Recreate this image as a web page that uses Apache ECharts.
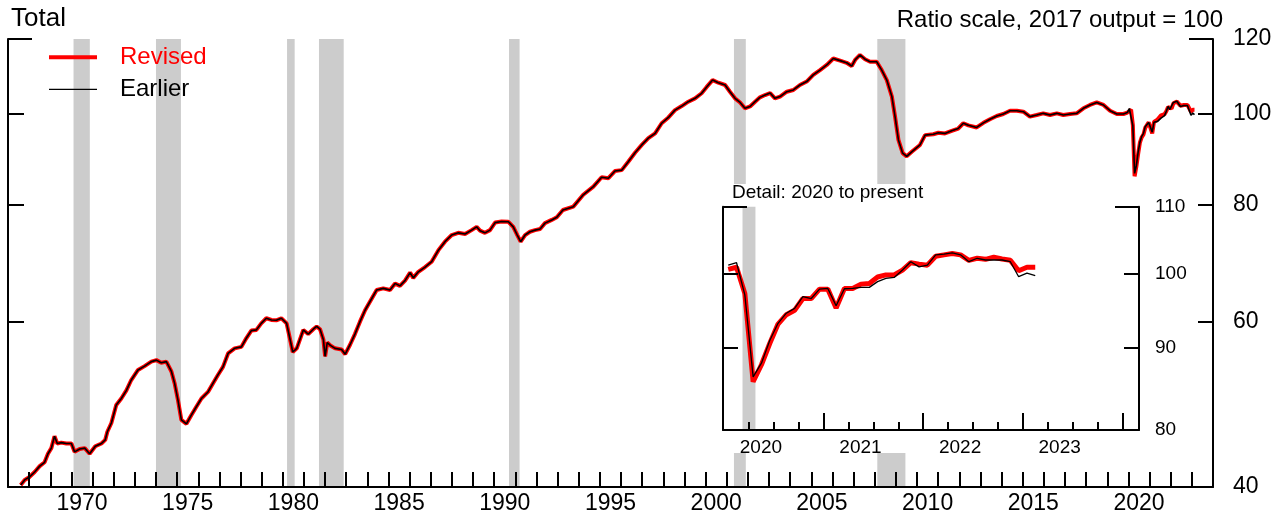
<!DOCTYPE html>
<html><head><meta charset="utf-8">
<script src="https://cdn.jsdelivr.net/npm/echarts@6/dist/echarts.min.js"></script>
<style>html,body{margin:0;padding:0;background:#fff}#c{width:1285px;height:521px}</style>
</head><body><div id="c"></div>
<script>
// ---- data (index, 2017 output = 100) ----
const histDates = [1967.6,1967.79,1968.02,1968.26,1968.5,1968.73,1968.89,1969.05,1969.2,1969.33,1969.52,1969.76,1970.0,1970.15,1970.39,1970.63,1970.86,1971.13,1971.42,1971.6,1971.7,1971.89,1972.12,1972.36,1972.6,1972.83,1973.15,1973.46,1973.78,1974.02,1974.25,1974.49,1974.73,1974.88,1975.04,1975.2,1975.44,1975.67,1975.91,1976.15,1976.46,1976.7,1976.93,1977.17,1977.41,1977.72,1978.04,1978.27,1978.51,1978.75,1978.98,1979.22,1979.46,1979.69,1979.93,1980.18,1980.47,1980.66,1980.97,1981.2,1981.44,1981.6,1981.76,1981.92,1982.0,1982.1,1982.25,1982.47,1982.78,1982.95,1983.18,1983.41,1983.65,1983.89,1984.12,1984.44,1984.75,1985.07,1985.31,1985.54,1985.78,1986.02,1986.17,1986.41,1986.73,1987.04,1987.36,1987.67,1987.99,1988.3,1988.62,1988.93,1989.17,1989.33,1989.56,1989.8,1990.04,1990.35,1990.67,1990.9,1991.09,1991.25,1991.46,1991.69,1991.93,1992.17,1992.4,1992.72,1992.96,1993.25,1993.74,1994.21,1994.69,1995.08,1995.4,1995.71,1996.03,1996.34,1996.66,1996.98,1997.29,1997.61,1997.92,1998.24,1998.55,1998.87,1999.18,1999.5,1999.81,2000.05,2000.33,2000.6,2000.92,2001.15,2001.39,2001.63,2001.86,2002.1,2002.34,2002.57,2002.81,2003.05,2003.28,2003.52,2003.84,2004.15,2004.46,2004.78,2005.09,2005.41,2005.73,2006.04,2006.36,2006.67,2006.91,2007.07,2007.3,2007.54,2007.78,2008.09,2008.33,2008.57,2008.81,2008.96,2009.12,2009.32,2009.51,2009.75,2010.14,2010.38,2010.77,2011.01,2011.32,2011.64,2011.95,2012.19,2012.43,2012.82,2013.14,2013.45,2013.77,2014.08,2014.4,2014.72,2015.03,2015.34,2015.66,2015.97,2016.29,2016.61,2016.92,2017.24,2017.55,2017.87,2018.18,2018.5,2018.82,2019.13,2019.45,2019.76,2019.95];
const histValues = [40.2,40.7,41.0,41.5,42.1,42.5,43.4,44.0,45.3,44.5,44.6,44.5,44.5,43.6,43.9,44.0,43.4,44.2,44.5,44.9,45.8,46.8,48.9,49.7,50.7,52.0,53.3,53.8,54.4,54.6,54.25,54.4,53.1,51.6,49.5,47.15,46.7,47.7,48.7,49.7,50.5,51.6,52.65,53.7,55.5,56.2,56.4,57.6,58.7,58.8,59.75,60.5,60.25,60.2,60.5,59.75,55.7,56.2,58.8,58.2,58.9,59.3,58.9,57.4,55.1,57.0,56.6,56.2,56.05,55.4,56.7,58.2,60.0,61.7,63.0,64.85,65.1,64.85,65.9,65.5,66.35,67.66,66.8,67.8,68.6,69.5,71.5,73.0,74.2,74.6,74.4,75.1,75.7,75.0,74.6,75.1,76.5,76.7,76.65,75.7,74.2,73.0,74.2,74.8,75.1,75.3,76.4,77.0,77.5,78.9,79.55,81.9,83.55,85.5,85.3,86.8,87.0,88.8,90.8,92.55,94.1,95.2,97.6,99.0,100.8,101.8,102.9,103.75,105.05,106.7,108.5,107.8,107.2,105.45,103.75,102.7,101.25,101.7,102.9,104.0,104.6,105.1,103.75,104.2,105.45,105.9,107.2,108.1,109.9,111.2,112.6,114.4,113.8,113.2,112.3,114.0,115.4,114.2,113.5,113.5,111.2,108.5,104.2,99.2,93.7,90.7,90.0,91.0,92.55,94.8,95.0,95.35,95.2,95.8,96.35,97.6,97.1,96.6,97.7,98.56,99.36,99.84,100.65,100.65,100.4,99.2,99.6,100.0,99.6,100.0,99.6,99.84,100.0,101.25,102.07,102.7,102.07,100.65,99.84,99.84,100.2];

const detailMonths = ['2020-01','2020-02','2020-03','2020-04','2020-05','2020-06','2020-07','2020-08','2020-09','2020-10','2020-11','2020-12',
  '2021-01','2021-02','2021-03','2021-04','2021-05','2021-06','2021-07','2021-08','2021-09','2021-10','2021-11','2021-12',
  '2022-01','2022-02','2022-03','2022-04','2022-05','2022-06','2022-07','2022-08','2022-09','2022-10','2022-11','2022-12',
  '2023-01','2023-02'];
const detailRevised = [100.6,100.9,97.2,85.7,87.8,90.5,93.05,94.3,94.9,96.5,96.5,97.8,97.8,95.2,97.9,97.9,98.5,98.6,99.5,99.8,99.8,100.5,101.55,101.35,101.2,102.5,102.7,102.9,102.7,101.9,102.2,102.05,102.35,102.1,101.9,100.4,100.9,100.9];
const detailEarlier = [101.2,101.55,97.0,86.3,88.0,90.9,93.15,94.5,95.15,96.75,96.5,97.8,97.9,95.5,97.85,97.9,98.05,98.05,98.85,99.3,99.45,100.5,101.7,100.95,101.2,102.7,102.8,103.0,102.7,101.7,102.2,101.95,101.95,101.95,101.7,99.55,100.05,99.7];

const mainRecessions = [[1970.1,1970.87],[1974.0,1975.18],[1980.2,1980.56],[1981.71,1982.88],[1990.7,1991.2],[2001.34,2001.9],[2008.12,2009.45]];
const detailRecessions = [[2020.185,2020.315]];

const mainYTicks = [40,60,80,100,120];
const detailYTicks = [80,90,100,110];
const mainXLabels = [1970,1975,1980,1985,1990,1995,2000,2005,2010,2015,2020];
const detailXLabels = [2020,2021,2022,2023];

// ---- build ----
const L = Math.log10;
const FONT = '"Liberation Sans", Arial, Helvetica, sans-serif';
const monthToYear = s => { const p = s.split('-'); return +p[0] + (+p[1] - 0.5) / 12; };
const detailDates = detailMonths.map(monthToYear);
const pairs = (d, v) => d.map((x, i) => [x, L(v[i])]);

const mainRev = pairs(histDates.concat(detailDates), histValues.concat(detailRevised));
const mainEar = pairs(histDates.concat(detailDates), histValues.concat(detailEarlier));
const detRev = pairs(detailDates, detailRevised);
const detEar = pairs(detailDates, detailEarlier);

const yearTicks = []; for (let y = 1968; y <= 2023; y++) yearTicks.push(y);
const quarterTicks = []; for (let y = 2020; y <= 2023; y++) [0.25, 0.5, 0.75].forEach(q => quarterTicks.push(y + q));
const detailYearTicks = [2021, 2022, 2023, 2024];

const BLACK = '#000';
const line2 = { color: BLACK, width: 2 };
const noSplit = { show: false };
const fmtY = v => String(Math.round(Math.pow(10, v)));

function yAx(grid, pos, min, max, opt) {
  return Object.assign({
    type: 'value', gridIndex: grid, position: pos, min: min, max: max,
    axisLine: { show: true, onZero: false, lineStyle: line2 },
    axisTick: { show: false }, axisLabel: { show: false }, splitLine: noSplit, z: grid ? 10 : 4
  }, opt);
}

const option = {
  animation: false,
  textStyle: { fontFamily: FONT },
  title: [
    { text: 'Total', left: 11, top: 6, padding: 0, z: 20, textStyle: { fontSize: 26, fontWeight: 'normal', color: BLACK, fontFamily: FONT } },
    { text: 'Ratio scale, 2017 output = 100', right: 62, top: 8.5, padding: 0, z: 20, textStyle: { fontSize: 24, fontWeight: 'normal', color: BLACK, fontFamily: FONT } },
    { text: 'Detail: 2020 to present', left: 732, top: 183.5, padding: 0, z: 20, textStyle: { fontSize: 19, fontWeight: 'normal', color: BLACK, fontFamily: FONT } }
  ],
  legend: [
    { data: ['Revised'], orient: 'vertical', left: 49, top: 45.3, padding: 0, icon: 'rect', itemWidth: 48, itemHeight: 4, selectedMode: false, z: 20,
      textStyle: { fontSize: 24, lineHeight: 24, color: '#ff0000', fontFamily: FONT, padding: [0, 0, 0, 18] } },
    { data: ['Earlier'], orient: 'vertical', left: 49, top: 77.3, padding: 0, icon: 'rect', itemWidth: 48, itemHeight: 1.3, selectedMode: false, z: 20,
      textStyle: { fontSize: 24, lineHeight: 24, color: BLACK, fontFamily: FONT, padding: [0, 0, 0, 18] } }
  ],
  graphic: [
    { type: 'rect', shape: { x: 715, y: 184, width: 475, height: 269 }, style: { fill: '#ffffff' }, z: 6, silent: true }
  ],
  grid: [
    { left: 8, right: 72, top: 39, bottom: 34, outerBoundsMode: 'none', containLabel: false },
    { left: 723, right: 146, top: 206.7, bottom: 91, outerBoundsMode: 'none', containLabel: false }
  ],
  xAxis: [
    { type: 'value', gridIndex: 0, position: 'bottom', min: 1967, max: 2024,
      axisLine: { show: true, onZero: false, lineStyle: line2 },
      axisTick: { show: true, inside: true, length: 15, lineStyle: line2, customValues: yearTicks },
      axisLabel: { show: true, customValues: mainXLabels.map(y => y + 0.5), formatter: v => String(Math.floor(v)), fontSize: 23, color: BLACK, fontFamily: FONT, margin: 5 },
      splitLine: noSplit, z: 4 },
    { type: 'value', gridIndex: 1, position: 'bottom', min: 2019.989, max: 2024.167,
      axisLine: { show: true, onZero: false, lineStyle: line2 },
      axisTick: { show: true, inside: true, length: 8, lineStyle: line2, customValues: quarterTicks },
      axisLabel: { show: true, customValues: detailXLabels.map(y => y + 0.37), formatter: v => String(Math.floor(v)), fontSize: 19, color: BLACK, fontFamily: FONT, margin: 8 },
      splitLine: noSplit, z: 10 },
    { type: 'value', gridIndex: 1, position: 'bottom', offset: 0, min: 2019.989, max: 2024.167,
      axisLine: { show: false, onZero: false },
      axisTick: { show: true, inside: true, length: 17, lineStyle: line2, customValues: detailYearTicks },
      axisLabel: { show: false }, splitLine: noSplit, z: 10 }
  ],
  yAxis: [
    yAx(0, 'left', L(40), L(120), { axisTick: { show: true, inside: true, length: 16, lineStyle: line2, customValues: [60, 80, 100].map(L) } }),
    yAx(0, 'right', L(40), L(120), {
      axisTick: { show: true, inside: true, length: 15, lineStyle: line2, customValues: [60, 80, 100].map(L) },
      axisLabel: { show: true, customValues: mainYTicks.map(L), formatter: fmtY, fontSize: 23, color: BLACK, fontFamily: FONT, margin: 20 } }),
    yAx(0, 'left', L(40), L(120), { axisLine: { show: false, onZero: false }, axisTick: { show: true, inside: true, length: 24, lineStyle: line2, customValues: [L(120)] } }),
    yAx(0, 'right', L(40), L(120), { axisLine: { show: false, onZero: false }, axisTick: { show: true, inside: true, length: 24, lineStyle: line2, customValues: [L(120)] } }),
    yAx(1, 'left', L(80), L(110), { axisTick: { show: true, inside: true, length: 15, lineStyle: line2, customValues: [90, 100].map(L) } }),
    yAx(1, 'right', L(80), L(110), {
      axisTick: { show: true, inside: true, length: 15, lineStyle: line2, customValues: [90, 100].map(L) },
      axisLabel: { show: true, customValues: detailYTicks.map(L), formatter: fmtY, fontSize: 19, color: BLACK, fontFamily: FONT, margin: 16 } }),
    yAx(1, 'left', L(80), L(110), { axisLine: { show: false, onZero: false }, axisTick: { show: true, inside: true, length: 24, lineStyle: line2, customValues: [L(110)] } }),
    yAx(1, 'right', L(80), L(110), { axisLine: { show: false, onZero: false }, axisTick: { show: true, inside: true, length: 24, lineStyle: line2, customValues: [L(110)] } })
  ],
  series: [
    { name: 'Revised', type: 'line', xAxisIndex: 0, yAxisIndex: 0, data: mainRev, symbol: 'none', showSymbol: false,
      lineStyle: { color: '#ff0000', width: 4 }, itemStyle: { color: '#ff0000' }, z: 2, silent: true,
      markArea: { silent: true, z: 1, itemStyle: { color: '#cccccc', opacity: 1 }, label: { show: false },
        data: mainRecessions.map(r => [{ xAxis: r[0] }, { xAxis: r[1] }]) } },
    { name: 'Earlier', type: 'line', xAxisIndex: 0, yAxisIndex: 0, data: mainEar, symbol: 'none', showSymbol: false,
      lineStyle: { color: BLACK, width: 1.6 }, itemStyle: { color: BLACK }, z: 3, silent: true },
    { name: 'Revised', type: 'line', xAxisIndex: 1, yAxisIndex: 4, data: detRev, symbol: 'none', showSymbol: false,
      lineStyle: { color: '#ff0000', width: 5 }, itemStyle: { color: '#ff0000' }, z: 8, silent: true,
      markArea: { silent: true, z: 7, itemStyle: { color: '#cccccc', opacity: 1 }, label: { show: false },
        data: detailRecessions.map(r => [{ xAxis: r[0] }, { xAxis: r[1] }]) } },
    { name: 'Earlier', type: 'line', xAxisIndex: 1, yAxisIndex: 4, data: detEar, symbol: 'none', showSymbol: false,
      lineStyle: { color: BLACK, width: 1.3 }, itemStyle: { color: BLACK }, z: 9, silent: true }
  ]
};

const chart = echarts.init(document.getElementById('c'), null, { renderer: 'canvas' });
chart.setOption(option);
</script>
</body></html>
